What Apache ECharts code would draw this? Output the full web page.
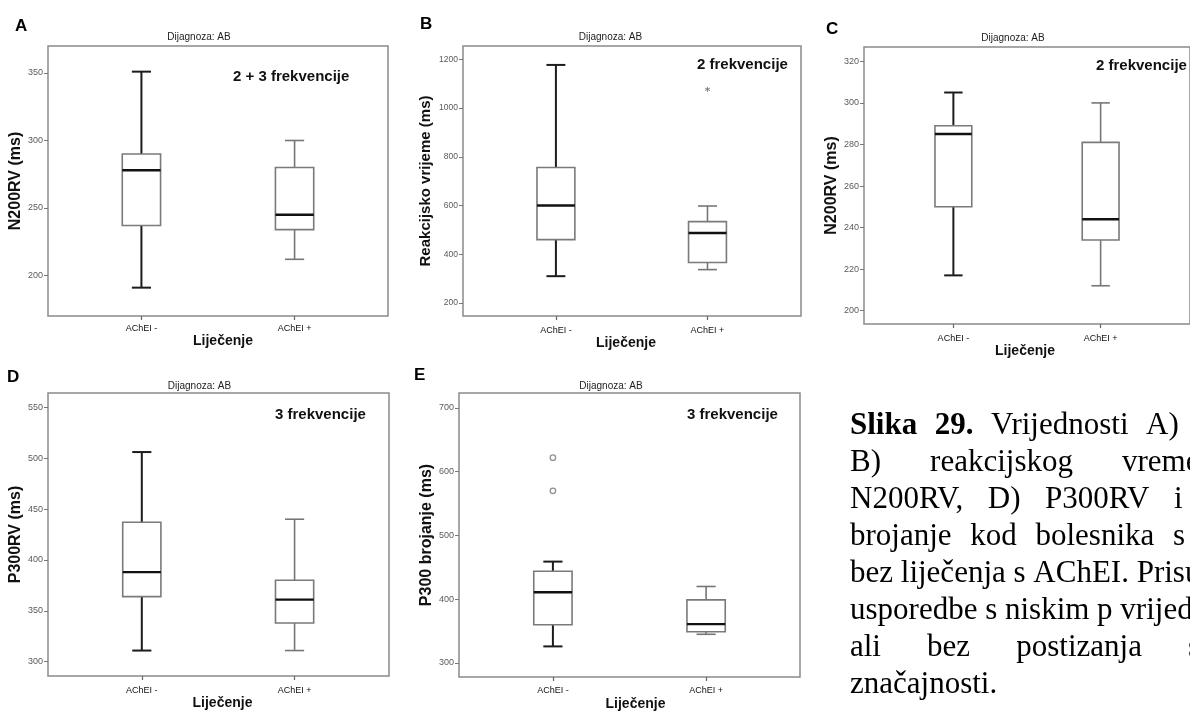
<!DOCTYPE html>
<html><head><meta charset="utf-8">
<script src="https://cdn.jsdelivr.net/npm/echarts@6/dist/echarts.min.js"></script>
<style>html,body{margin:0;padding:0;background:#fff}#c{width:1190px;height:713px}</style>
</head><body><div id="c"></div>
<script>
// ---------------- DATA ----------------
const categories = ['AChEI -', 'AChEI +'];
// each box: [min, Q1, median, Q3, max]
const boxA = [[191, 237, 278, 290, 351], [212, 234, 245, 280, 300]];
const boxB = [[310, 460, 600, 756, 1177], [337, 366, 487, 534, 598]];
const boxC = [[217, 250, 285, 289, 305], [212, 234, 244, 281, 300]];
const boxD = [[311, 364, 388, 437, 506], [311, 338, 361, 380, 440]];
const boxE = [[326, 360, 411, 444, 459], [345, 349, 361, 399, 420]];
// outliers: [category position (1 or 2), value]
const extremesB = [[2, 1077]];
const outliersE = [[1, 622], [1, 570]];
// y tick labels
const ticksA = [200, 250, 300, 350];
const ticksB = [200, 400, 600, 800, 1000, 1200];
const ticksC = [200, 220, 240, 260, 280, 300, 320];
const ticksD = [300, 350, 400, 450, 500, 550];
const ticksE = [300, 400, 500, 600, 700];
const yNames = ['N200RV (ms)', 'Reakcijsko vrijeme (ms)', 'N200RV (ms)', 'P300RV (ms)', 'P300 brojanje (ms)'];
const notes = ['2 + 3 frekvencije', '2 frekvencije', '2 frekvencije', '3 frekvencije', '3 frekvencije'];
const letters = ['A', 'B', 'C', 'D', 'E'];
const panelTitle = 'Dijagnoza: AB';
const xName = 'Liječenje';

// ---------------- LAYOUT ----------------
const layout = [
  {grid:{left:48, top:46, width:340, height:270}, xr:[0.39, 2.61], yr:[170, 370], yGap:23, xGap:18, xPad:[0,0,0,10], lblMargin:8.5, tickFs:9,
   title:[199, 37], note:[233, 77], letter:[15, 26]},
  {grid:{left:463, top:46, width:338, height:270}, xr:[0.387, 2.617], yr:[146.6, 1254.7], yGap:30, xGap:20, xPad:[0,12,0,0], lblMargin:10, tickFs:8.5,
   title:[610.5, 37], note:[697, 65], letter:[420, 24.5]},
  {grid:{left:864, top:47, width:338, height:277}, xr:[0.393, 2.607], yr:[193.6, 326.9], yGap:23, xGap:19, xPad:[0,4,0,0], lblMargin:9.8, tickFs:9,
   title:[1013, 38], note:[1096, 66], letter:[826, 29]},
  {grid:{left:48, top:393, width:341, height:283}, xr:[0.386, 2.618], yr:[286, 564], yGap:23, xGap:20.5, xPad:[0,0,0,8], lblMargin:9.8, tickFs:9,
   title:[199.5, 386.7], note:[275, 414.5], letter:[7, 377]},
  {grid:{left:459, top:393, width:341, height:284}, xr:[0.387, 2.613], yr:[278, 723.5], yGap:24.5, xGap:20.5, xPad:[0,0,0,12], lblMargin:9.2, tickFs:9,
   title:[611, 386.5], note:[687, 415], letter:[414, 375.5]}
];
const boxes = [boxA, boxB, boxC, boxD, boxE];
const ticks = [ticksA, ticksB, ticksC, ticksD, ticksE];

const SANS = 'Liberation Sans, Arial, sans-serif';
const SERIF = 'Liberation Serif, Times New Roman, serif';

function renderBox(params, api) {
  const x = api.value(0);
  const lo = api.coord([x, api.value(1)]);
  const q1 = api.coord([x, api.value(2)]);
  const md = api.coord([x, api.value(3)]);
  const q3 = api.coord([x, api.value(4)]);
  const hi = api.coord([x, api.value(5)]);
  const bw = api.size([0.25, 0])[0];
  const cx = lo[0];
  const first = params.dataIndex === 0;
  const ws = {stroke: first ? '#1c1c1c' : '#767676', lineWidth: first ? 2 : 1.6, fill: null};
  const bs = {stroke: '#7a7a7a', lineWidth: 1.6, fill: '#fff'};
  return {type: 'group', children: [
    {type: 'line', shape: {x1: cx, y1: hi[1], x2: cx, y2: q3[1]}, style: ws},
    {type: 'line', shape: {x1: cx, y1: q1[1], x2: cx, y2: lo[1]}, style: ws},
    {type: 'line', shape: {x1: cx - bw / 4, y1: hi[1], x2: cx + bw / 4, y2: hi[1]}, style: ws},
    {type: 'line', shape: {x1: cx - bw / 4, y1: lo[1], x2: cx + bw / 4, y2: lo[1]}, style: ws},
    {type: 'rect', shape: {x: cx - bw / 2, y: q3[1], width: bw, height: q1[1] - q3[1]}, style: bs},
    {type: 'line', shape: {x1: cx - bw / 2, y1: md[1], x2: cx + bw / 2, y2: md[1]}, style: {stroke: '#111', lineWidth: 2.4}}
  ]};
}

const grid = [], xAxis = [], yAxis = [], series = [], graphic = [];
layout.forEach((L, i) => {
  grid.push(Object.assign({show: true, borderColor: '#8a8a8a', borderWidth: 1.5, backgroundColor: 'transparent'}, L.grid));
  xAxis.push({
    gridIndex: i, type: 'value', min: L.xr[0], max: L.xr[1],
    splitLine: {show: false}, axisLine: {show: false},
    axisTick: {show: true, customValues: [1, 2], length: 4, lineStyle: {color: '#666', width: 1.2}},
    axisLabel: {customValues: [1, 2], formatter: v => categories[Math.round(v) - 1], margin: L.lblMargin,
      fontSize: 9, color: '#111', fontFamily: SANS},
    name: xName, nameLocation: 'middle', nameGap: L.xGap,
    nameTextStyle: {fontSize: 14, fontWeight: 'bold', color: '#111', fontFamily: SANS, padding: L.xPad}
  });
  yAxis.push({
    gridIndex: i, type: 'value', min: L.yr[0], max: L.yr[1],
    splitLine: {show: false}, axisLine: {show: false},
    axisTick: {show: true, customValues: ticks[i], length: 4, lineStyle: {color: '#777', width: 1}},
    axisLabel: {customValues: ticks[i], formatter: v => String(Math.round(v)), margin: 5, fontSize: L.tickFs, color: '#5a5a5a', fontFamily: SANS},
    name: yNames[i], nameLocation: 'middle', nameGap: L.yGap, nameRotate: 90,
    nameTextStyle: {fontSize: i === 1 ? 15 : 16, fontWeight: 'bold', color: '#111', fontFamily: SANS}
  });
  series.push({
    type: 'custom', name: letters[i], coordinateSystem: 'cartesian2d', xAxisIndex: i, yAxisIndex: i,
    encode: {x: 0, y: [1, 2, 3, 4, 5]},
    renderItem: renderBox,
    data: boxes[i].map((b, k) => [k + 1].concat(b)),
    z: 3
  });
  graphic.push({type: 'text', x: L.title[0], y: L.title[1],
    style: {text: panelTitle, font: '10px ' + SANS, fill: '#222', textAlign: 'center', textVerticalAlign: 'middle', align: 'center', verticalAlign: 'middle'}});
  graphic.push({type: 'text', x: L.note[0], y: L.note[1],
    style: {text: notes[i], font: 'bold 15px ' + SANS, fill: '#111', textAlign: 'left', textVerticalAlign: 'middle', align: 'left', verticalAlign: 'middle'}});
  graphic.push({type: 'text', x: L.letter[0], y: L.letter[1],
    style: {text: letters[i], font: 'bold 17px ' + SANS, fill: '#000', textAlign: 'left', textVerticalAlign: 'middle', align: 'left', verticalAlign: 'middle'}});
});

series.push({
  type: 'scatter', xAxisIndex: 1, yAxisIndex: 1, data: extremesB,
  symbol: 'path://M5,0L5,10M0.7,2.5L9.3,7.5M0.7,7.5L9.3,2.5', symbolSize: 5,
  itemStyle: {color: 'none', borderColor: '#6a6a6a', borderWidth: 1}, z: 4
});
series.push({
  type: 'scatter', xAxisIndex: 4, yAxisIndex: 4, data: outliersE,
  symbol: 'circle', symbolSize: 5.5,
  itemStyle: {color: '#fff', borderColor: '#777', borderWidth: 1.3}, z: 4
});

// ---------------- CAPTION (justified lines) ----------------
const capFs = 31;
const capLeft = 850;
const capTop = 426;
const capLh = 37;
const capLines = [
  {words: [['Slika', 1], ['29.', 1], ['Vrijednosti', 0], ['A)', 0]], last: 1146},
  {words: [['B)', 0], ['reakcijskog', 0], ['vremena,', 0]], last: 1122},
  {words: [['N200RV,', 0], ['D)', 0], ['P300RV', 0], ['i', 0]], last: 1174},
  {words: [['brojanje', 0], ['kod', 0], ['bolesnika', 0], ['s', 0]], last: 1173},
  {words: [['bez liječenja s AChEI. Prisutni', 0]]},
  {words: [['usporedbe s niskim p vrijednostima,', 0]]},
  {words: [['ali', 0], ['bez', 0], ['postizanja', 0], ['statističke', 0]], last: 1188},
  {words: [['značajnosti.', 0]]}
];
const mctx = document.createElement('canvas').getContext('2d');
function fontOf(b) { return (b ? 'bold ' : '') + capFs + 'px ' + SERIF; }
function wWidth(w) { mctx.font = fontOf(w[1]); return mctx.measureText(w[0]).width; }
capLines.forEach((ln, r) => {
  const y = capTop + r * capLh;
  let gap = 0;
  if (ln.last && ln.words.length > 1) {
    let sum = 0;
    for (let k = 0; k < ln.words.length - 1; k++) sum += wWidth(ln.words[k]);
    gap = (ln.last - capLeft - sum) / (ln.words.length - 1);
  }
  let x = capLeft;
  ln.words.forEach(w => {
    graphic.push({type: 'text', x: x, y: y,
      style: {text: w[0], font: fontOf(w[1]), fill: '#000', textAlign: 'left', textVerticalAlign: 'middle', align: 'left', verticalAlign: 'middle'}});
    x += wWidth(w) + gap;
  });
});

const chart = echarts.init(document.getElementById('c'), null, {renderer: 'canvas'});
chart.setOption({
  backgroundColor: '#fff',
  animation: false,
  grid: grid, xAxis: xAxis, yAxis: yAxis, series: series, graphic: graphic
});
</script></body></html>
